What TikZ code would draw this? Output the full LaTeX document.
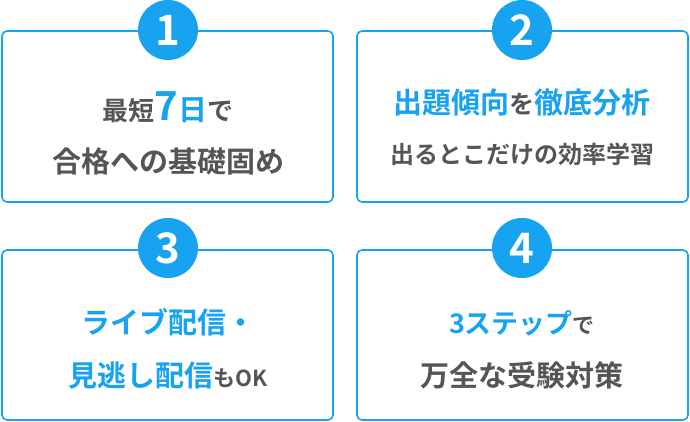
\documentclass[tikz,border=0pt]{standalone}
\usepackage{fontspec}
\setmainfont{Noto Sans CJK JP Bold}
\definecolor{bl}{HTML}{17A3F0}
\definecolor{tx}{HTML}{555555}
\begin{document}
\begin{tikzpicture}[x=1pt,y=-1pt,
  card/.style={draw=bl,line width=1.6pt,rounded corners=5pt,fill=white},
  num/.style={circle,fill=bl,minimum size=60pt,inner sep=0pt,text=white,font=\fontsize{42}{42}\selectfont},
  ln/.style={text=tx,font=\fontsize{29}{29}\selectfont,inner sep=0pt,anchor=base}]
\useasboundingbox (0,0) rectangle (690,422);
\draw[card] (2,31) rectangle (333,202);
\draw[card] (357,31) rectangle (688,202);
\draw[card] (2,250) rectangle (333,420);
\draw[card] (357,250) rectangle (688,420);
\node[num] (n1) at (168,30) {1};
\node[num] (n2) at (522,30) {2};
\node[num] (n3) at (168,248) {3};
\node[num] (n4) at (522,248) {4};
\node[ln] (a1) at (168,121) {\fontsize{26}{26}\selectfont 最短{\color{bl}\fontsize{40}{40}\selectfont 7}{\color{bl}\fontsize{29}{29}\selectfont 日}で};
\node[ln] (a2) at (168,172) {合格への基礎固め};
\node[ln,text=bl] (b1) at (522,114) {出題傾向{\color{tx}\fontsize{25}{25}\selectfont を}徹底分析};
\node[ln,font=\fontsize{24}{24}\selectfont] (b2) at (522,164) {出るとこだけの効率学習};
\node[ln,text=bl] (c1) at (168,333) {ライブ配信・};
\node[ln,text=bl] (c2) at (168,386) {見逃し配信{\color{tx}\fontsize{22}{22}\selectfont もOK}};
\node[ln] (d1) at (522,333) {{\color{bl}\fontsize{27}{27}\selectfont 3ステップ}{\fontsize{22}{22}\selectfont で}};
\node[ln] (d2) at (522,386) {万全な受験対策};
\end{tikzpicture}
\end{document}
